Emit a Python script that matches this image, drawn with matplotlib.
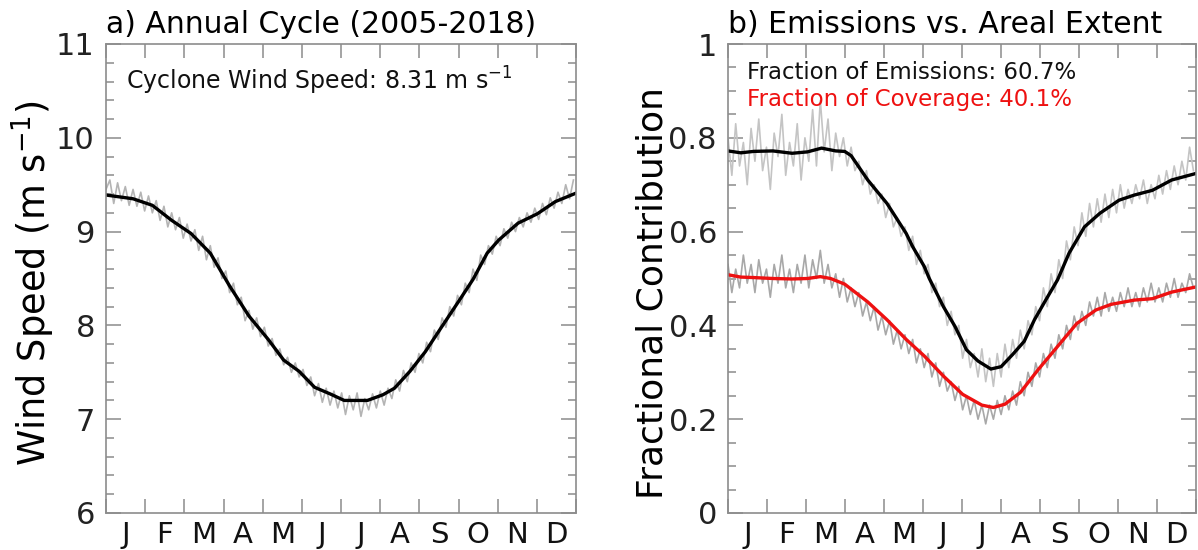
import numpy as np
import matplotlib
matplotlib.use('Agg')
import matplotlib.pyplot as plt
from matplotlib.ticker import MultipleLocator, FixedLocator

months = ['J', 'F', 'M', 'A', 'M', 'J', 'J', 'A', 'S', 'O', 'N', 'D']

# daily-ish raw series (every 3 days)
raw_days = list(range(0, 364, 3))

wind_raw = [9.45, 9.55, 9.30, 9.52, 9.33, 9.48, 9.28, 9.45, 9.27, 9.42, 9.22, 9.38, 9.20, 9.33, 9.12, 9.27,
            9.05, 9.20, 9.02, 9.15, 8.93, 9.08, 8.90, 9.02, 8.80, 8.95, 8.70, 8.85, 8.62, 8.72, 8.50, 8.58,
            8.35, 8.45, 8.22, 8.30, 8.05, 8.16, 7.96, 8.08, 7.88, 7.98, 7.78, 7.86, 7.68, 7.75, 7.58, 7.66,
            7.50, 7.60, 7.45, 7.53, 7.36, 7.45, 7.25, 7.38, 7.18, 7.33, 7.15, 7.30, 7.12, 7.28, 7.05, 7.25,
            7.10, 7.28, 7.03, 7.22, 7.10, 7.27, 7.12, 7.30, 7.15, 7.33, 7.22, 7.42, 7.30, 7.52, 7.40, 7.60,
            7.50, 7.70, 7.60, 7.82, 7.72, 7.95, 7.85, 8.08, 7.98, 8.20, 8.10, 8.32, 8.22, 8.45, 8.35, 8.60,
            8.48, 8.75, 8.65, 8.85, 8.76, 8.95, 8.85, 9.03, 8.93, 9.10, 9.00, 9.15, 9.05, 9.20, 9.10, 9.25,
            9.13, 9.30, 9.18, 9.36, 9.25, 9.42, 9.30, 9.50, 9.35, 9.55]

emis_raw = [0.80, 0.72, 0.83, 0.74, 0.79, 0.70, 0.82, 0.75, 0.84, 0.73, 0.78, 0.69, 0.81, 0.76, 0.85, 0.72,
            0.79, 0.74, 0.83, 0.71, 0.80, 0.75, 0.86, 0.74, 0.88, 0.77, 0.84, 0.73, 0.81, 0.76, 0.80, 0.74,
            0.78, 0.73, 0.75, 0.70, 0.73, 0.68, 0.70, 0.66, 0.68, 0.63, 0.66, 0.61, 0.63, 0.59, 0.61, 0.56,
            0.59, 0.53, 0.56, 0.51, 0.53, 0.47, 0.49, 0.44, 0.46, 0.40, 0.43, 0.38, 0.40, 0.33, 0.37, 0.31,
            0.34, 0.29, 0.35, 0.28, 0.33, 0.27, 0.34, 0.29, 0.36, 0.31, 0.37, 0.33, 0.39, 0.35, 0.41, 0.38,
            0.44, 0.41, 0.48, 0.44, 0.51, 0.47, 0.54, 0.50, 0.58, 0.54, 0.61, 0.57, 0.64, 0.59, 0.66, 0.61,
            0.67, 0.62, 0.68, 0.63, 0.69, 0.64, 0.70, 0.65, 0.69, 0.66, 0.70, 0.67, 0.71, 0.66, 0.70, 0.67,
            0.72, 0.68, 0.73, 0.69, 0.74, 0.70, 0.75, 0.71, 0.78, 0.73]

cover_raw = [0.53, 0.47, 0.52, 0.48, 0.55, 0.49, 0.53, 0.47, 0.54, 0.49, 0.52, 0.46, 0.53, 0.49, 0.55, 0.48,
             0.52, 0.47, 0.53, 0.49, 0.55, 0.48, 0.54, 0.50, 0.56, 0.49, 0.53, 0.48, 0.51, 0.46, 0.50, 0.45,
             0.48, 0.44, 0.47, 0.42, 0.45, 0.41, 0.44, 0.39, 0.42, 0.38, 0.41, 0.36, 0.39, 0.35, 0.38, 0.34,
             0.37, 0.32, 0.35, 0.31, 0.34, 0.29, 0.32, 0.27, 0.30, 0.26, 0.28, 0.24, 0.27, 0.22, 0.25, 0.21,
             0.24, 0.20, 0.23, 0.19, 0.23, 0.20, 0.24, 0.21, 0.25, 0.22, 0.26, 0.23, 0.28, 0.25, 0.30, 0.27,
             0.32, 0.29, 0.34, 0.31, 0.36, 0.33, 0.38, 0.35, 0.40, 0.37, 0.42, 0.39, 0.43, 0.40, 0.45, 0.42,
             0.46, 0.42, 0.47, 0.43, 0.46, 0.43, 0.47, 0.44, 0.48, 0.44, 0.47, 0.44, 0.48, 0.45, 0.49, 0.45,
             0.48, 0.45, 0.49, 0.46, 0.50, 0.46, 0.49, 0.47, 0.51, 0.48]

# smoothed curves
wind_days = [0, 21, 36, 51, 66, 81, 96, 111, 126, 138, 150, 162, 174, 185, 203, 215, 224, 236,
             248, 260, 275, 285, 296, 305, 320, 335, 349, 365]
wind_smooth = [9.39, 9.35, 9.28, 9.12, 8.98, 8.77, 8.42, 8.10, 7.85, 7.63, 7.51, 7.34, 7.27, 7.20,
               7.20, 7.26, 7.33, 7.51, 7.72, 7.97, 8.28, 8.49, 8.77, 8.91, 9.09, 9.19, 9.32, 9.41]

emis_days = [0, 10, 20, 35, 50, 62, 73, 84, 91, 96, 109, 124, 139, 144, 153, 157, 168, 177, 186,
             195, 205, 213, 222, 231, 239, 248, 257, 266, 278, 290, 305, 317, 331, 346, 365]
emis_smooth = [0.772, 0.768, 0.771, 0.772, 0.767, 0.770, 0.778, 0.772, 0.771, 0.762, 0.710, 0.660,
               0.596, 0.568, 0.526, 0.500, 0.440, 0.398, 0.348, 0.324, 0.307, 0.312, 0.338, 0.366,
               0.412, 0.455, 0.497, 0.554, 0.610, 0.639, 0.667, 0.678, 0.688, 0.710, 0.724]

cover_days = [0, 10, 20, 35, 50, 62, 72, 80, 91, 109, 124, 139, 153, 168, 183, 198, 207, 216, 228,
              242, 257, 272, 287, 299, 317, 331, 346, 365]
cover_smooth = [0.508, 0.503, 0.502, 0.500, 0.499, 0.500, 0.504, 0.500, 0.488, 0.450, 0.412, 0.370,
                0.335, 0.292, 0.253, 0.230, 0.225, 0.232, 0.257, 0.306, 0.355, 0.404, 0.433, 0.445,
                0.454, 0.457, 0.471, 0.482]

GREY = '#b4b4b4'
SPINE = '#8c8c8c'


def style_axes(ax):
	for s in ax.spines.values():
		s.set_color(SPINE)
		s.set_linewidth(1.2)
	ax.set_xlim(0, 365)
	ax.xaxis.set_major_locator(FixedLocator(np.arange(13) * 365 / 12.))
	ax.xaxis.set_minor_locator(FixedLocator((np.arange(12) + 0.5) * 365 / 12.))
	ax.set_xticklabels([''] * 13)
	ax.set_xticklabels(months, minor=True)
	ax.tick_params(axis='x', which='major', direction='in', length=10, width=1.1,
				   color=SPINE, top=True, bottom=True)
	ax.tick_params(axis='x', which='minor', length=0, labelsize=21, pad=6, labelcolor='#111111')
	ax.tick_params(axis='y', which='major', direction='in', length=10.5, width=1.1,
				   color=SPINE, left=True, right=True, labelsize=22, pad=8, labelcolor='#222222')
	ax.tick_params(axis='y', which='minor', direction='in', length=5.8, width=1.1,
				   color=SPINE, left=True, right=True)


def main():
	fig = plt.figure(figsize=(11.98, 5.5), dpi=100)

	# a) annual cycle
	ax1 = fig.add_axes([106 / 1198., 37 / 550., 470 / 1198., 469 / 550.])
	ax1.plot(raw_days, wind_raw, color=GREY, lw=1.2)
	ax1.plot(wind_days, wind_smooth, color='black', lw=2.4)
	style_axes(ax1)
	ax1.set_ylim(6, 11)
	ax1.yaxis.set_major_locator(MultipleLocator(1))
	ax1.yaxis.set_minor_locator(MultipleLocator(0.2))
	ax1.set_ylabel('Wind Speed (m s$^{-1}$)', fontsize=26.5)
	ax1.yaxis.set_label_coords(-0.105, 0.49)
	ax1.set_title('a) Annual Cycle (2005-2018)', loc='left', fontsize=21.5, pad=8)
	ax1.text(0.043, 0.902, 'Cyclone Wind Speed: 8.31 m s$^{-1}$', transform=ax1.transAxes,
			 fontsize=17, color='#111111')

	# b) emissions vs areal extent
	ax2 = fig.add_axes([728 / 1198., 37 / 550., 468 / 1198., 469 / 550.])
	ax2.plot(raw_days, emis_raw, color='#c4c4c4', lw=1.2)
	ax2.plot(raw_days, cover_raw, color='#a8a8a8', lw=1.2)
	ax2.plot(emis_days, emis_smooth, color='black', lw=2.4)
	ax2.plot(cover_days, cover_smooth, color='#ee1111', lw=2.4)
	style_axes(ax2)
	ax2.set_ylim(0, 1)
	ax2.yaxis.set_major_locator(FixedLocator([0, 0.2, 0.4, 0.6, 0.8, 1.0]))
	ax2.set_yticklabels(['0', '0.2', '0.4', '0.6', '0.8', '1'])
	ax2.yaxis.set_minor_locator(MultipleLocator(0.05))
	ax2.set_ylabel('Fractional Contribution', fontsize=26)
	ax2.yaxis.set_label_coords(-0.126, 0.47)
	ax2.set_title('b) Emissions vs. Areal Extent', loc='left', fontsize=21.5, pad=8)
	ax2.text(0.041, 0.926, 'Fraction of Emissions: 60.7%', transform=ax2.transAxes,
			 fontsize=16.5, color='#111111')
	ax2.text(0.041, 0.868, 'Fraction of Coverage: 40.1%', transform=ax2.transAxes,
			 fontsize=16.5, color='#ee1111')

	plt.savefig('out.png', dpi=100)


if __name__ == '__main__':
	main()
